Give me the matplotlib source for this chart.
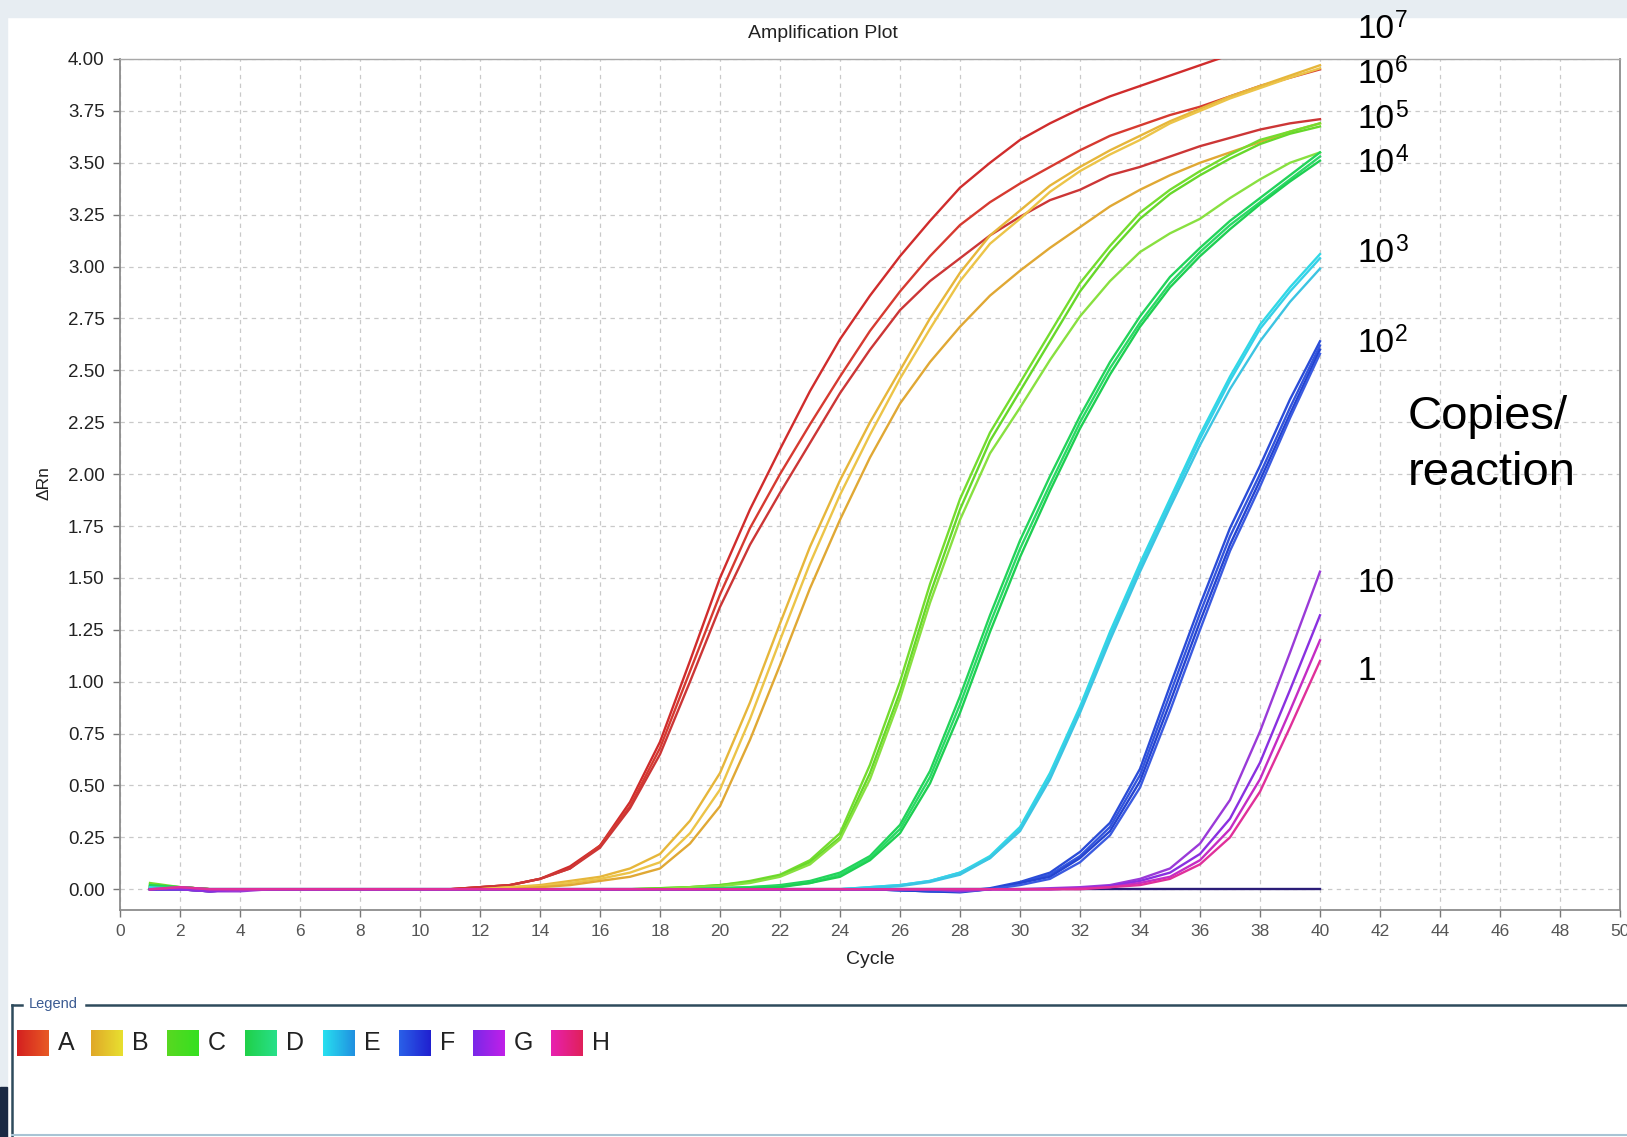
import matplotlib.pyplot as plt
from matplotlib.colors import LinearSegmentedColormap
from matplotlib.lines import Line2D
from matplotlib.patches import Rectangle
import numpy as np

plt.rcParams['font.family'] = ['Liberation Sans', 'DejaVu Sans']

# cycle numbers 1..40
cycles = list(range(1, 41))

# delta Rn per well, one list per well (cycles 1-13 / 14-27 / 28-40)
A1 = [0.01, 0.00, 0.00, 0.00, 0.00, 0.00, 0.00, 0.00, 0.00, 0.00, 0.00, 0.01, 0.02,
      0.05, 0.11, 0.21, 0.42, 0.71, 1.10, 1.50, 1.83, 2.12, 2.40, 2.65, 2.86, 3.05, 3.22,
      3.38, 3.50, 3.61, 3.69, 3.76, 3.82, 3.87, 3.92, 3.97, 4.02, 4.07, 4.11, 4.14]
A2 = [0.00, 0.01, 0.00, 0.00, 0.00, 0.00, 0.00, 0.00, 0.00, 0.00, 0.00, 0.01, 0.02,
      0.05, 0.10, 0.21, 0.40, 0.68, 1.05, 1.42, 1.74, 2.00, 2.24, 2.47, 2.69, 2.88, 3.05,
      3.20, 3.31, 3.40, 3.48, 3.56, 3.63, 3.68, 3.73, 3.77, 3.82, 3.87, 3.91, 3.95]
A3 = [0.00, 0.00, -0.01, 0.00, 0.00, 0.00, 0.00, 0.00, 0.00, 0.00, 0.00, 0.01, 0.02,
      0.05, 0.10, 0.20, 0.39, 0.65, 1.00, 1.36, 1.66, 1.91, 2.15, 2.39, 2.60, 2.79, 2.93,
      3.04, 3.15, 3.24, 3.32, 3.37, 3.44, 3.48, 3.53, 3.58, 3.62, 3.66, 3.69, 3.71]

B1 = [0.01, 0.01, 0.00, 0.00, 0.00, 0.00, 0.00, 0.00, 0.00, 0.00, 0.00, 0.00, 0.01,
      0.02, 0.04, 0.06, 0.10, 0.17, 0.33, 0.56, 0.90, 1.28, 1.65, 1.97, 2.25, 2.50, 2.75,
      2.97, 3.15, 3.27, 3.39, 3.48, 3.56, 3.63, 3.70, 3.76, 3.82, 3.87, 3.92, 3.97]
B2 = [0.01, 0.00, 0.00, 0.00, 0.00, 0.00, 0.00, 0.00, 0.00, 0.00, 0.00, 0.00, 0.01,
      0.015, 0.03, 0.05, 0.08, 0.13, 0.27, 0.48, 0.82, 1.20, 1.57, 1.90, 2.19, 2.46, 2.70,
      2.93, 3.11, 3.23, 3.36, 3.46, 3.54, 3.61, 3.69, 3.75, 3.81, 3.86, 3.91, 3.955]
B3 = [0.00, 0.01, 0.00, 0.00, 0.00, 0.00, 0.00, 0.00, 0.00, 0.00, 0.00, 0.00, 0.00,
      0.01, 0.02, 0.04, 0.06, 0.10, 0.22, 0.40, 0.72, 1.08, 1.45, 1.78, 2.08, 2.34, 2.54,
      2.71, 2.86, 2.98, 3.09, 3.19, 3.29, 3.37, 3.44, 3.50, 3.55, 3.60, 3.65, 3.69]

C1 = [0.03, 0.01, 0.00, 0.00, 0.00, 0.00, 0.00, 0.00, 0.00, 0.00, 0.00, 0.00, 0.00,
      0.00, 0.00, 0.00, 0.00, 0.005, 0.01, 0.02, 0.04, 0.07, 0.14, 0.27, 0.60, 1.00, 1.47,
      1.88, 2.20, 2.44, 2.68, 2.92, 3.10, 3.26, 3.37, 3.46, 3.54, 3.61, 3.65, 3.69]
C2 = [0.02, 0.01, 0.00, 0.00, 0.00, 0.00, 0.00, 0.00, 0.00, 0.00, 0.00, 0.00, 0.00,
      0.00, 0.00, 0.00, 0.00, 0.005, 0.01, 0.02, 0.035, 0.065, 0.13, 0.25, 0.56, 0.95, 1.42,
      1.83, 2.16, 2.40, 2.64, 2.88, 3.07, 3.23, 3.35, 3.44, 3.52, 3.59, 3.64, 3.675]
C3 = [0.02, 0.00, 0.00, 0.00, 0.00, 0.00, 0.00, 0.00, 0.00, 0.00, 0.00, 0.00, 0.00,
      0.00, 0.00, 0.00, 0.00, 0.00, 0.01, 0.015, 0.03, 0.06, 0.12, 0.24, 0.53, 0.92, 1.38,
      1.78, 2.10, 2.32, 2.55, 2.76, 2.93, 3.07, 3.16, 3.23, 3.33, 3.42, 3.50, 3.55]

D1 = [0.02, 0.01, 0.00, 0.00, 0.00, 0.00, 0.00, 0.00, 0.00, 0.00, 0.00, 0.00, 0.00,
      0.00, 0.00, 0.00, 0.00, 0.00, 0.00, 0.005, 0.01, 0.02, 0.04, 0.08, 0.16, 0.31, 0.57,
      0.93, 1.32, 1.68, 1.99, 2.28, 2.54, 2.76, 2.95, 3.09, 3.22, 3.33, 3.44, 3.55]
D2 = [0.01, 0.01, 0.00, 0.00, 0.00, 0.00, 0.00, 0.00, 0.00, 0.00, 0.00, 0.00, 0.00,
      0.00, 0.00, 0.00, 0.00, 0.00, 0.00, 0.005, 0.01, 0.015, 0.03, 0.07, 0.15, 0.29, 0.54,
      0.89, 1.28, 1.64, 1.95, 2.25, 2.51, 2.73, 2.92, 3.07, 3.20, 3.31, 3.42, 3.53]
D3 = [0.01, 0.00, 0.00, 0.00, 0.00, 0.00, 0.00, 0.00, 0.00, 0.00, 0.00, 0.00, 0.00,
      0.00, 0.00, 0.00, 0.00, 0.00, 0.00, 0.00, 0.005, 0.01, 0.03, 0.06, 0.14, 0.27, 0.51,
      0.85, 1.24, 1.60, 1.92, 2.22, 2.48, 2.71, 2.90, 3.05, 3.18, 3.30, 3.41, 3.51]

E1 = [0.01, 0.00, 0.00, 0.00, 0.00, 0.00, 0.00, 0.00, 0.00, 0.00, 0.00, 0.00, 0.00,
      0.00, 0.00, 0.00, 0.00, 0.00, 0.00, 0.00, 0.00, 0.00, 0.00, 0.00, 0.01, 0.02, 0.04,
      0.08, 0.16, 0.30, 0.56, 0.88, 1.24, 1.57, 1.88, 2.19, 2.47, 2.72, 2.90, 3.06]
E2 = [0.00, 0.00, 0.00, 0.00, 0.00, 0.00, 0.00, 0.00, 0.00, 0.00, 0.00, 0.00, 0.00,
      0.00, 0.00, 0.00, 0.00, 0.00, 0.00, 0.00, 0.00, 0.00, 0.00, 0.00, 0.01, 0.02, 0.04,
      0.08, 0.15, 0.29, 0.54, 0.86, 1.22, 1.55, 1.86, 2.17, 2.45, 2.70, 2.88, 3.04]
E3 = [0.00, 0.00, 0.00, 0.00, 0.00, 0.00, 0.00, 0.00, 0.00, 0.00, 0.00, 0.00, 0.00,
      0.00, 0.00, 0.00, 0.00, 0.00, 0.00, 0.00, 0.00, 0.00, 0.00, 0.00, 0.005, 0.015, 0.035,
      0.07, 0.15, 0.28, 0.53, 0.85, 1.20, 1.53, 1.84, 2.14, 2.41, 2.64, 2.83, 2.99]

F1 = [0.00, 0.00, -0.01, 0.00, 0.00, 0.00, 0.00, 0.00, 0.00, 0.00, 0.00, 0.00, 0.00,
      0.00, 0.00, 0.00, 0.00, 0.00, 0.00, 0.00, 0.00, 0.00, 0.00, 0.00, 0.00, -0.005, -0.01,
      -0.01, 0.005, 0.035, 0.08, 0.18, 0.32, 0.58, 0.98, 1.37, 1.74, 2.04, 2.36, 2.64]
F2 = [0.00, 0.00, -0.01, 0.00, 0.00, 0.00, 0.00, 0.00, 0.00, 0.00, 0.00, 0.00, 0.00,
      0.00, 0.00, 0.00, 0.00, 0.00, 0.00, 0.00, 0.00, 0.00, 0.00, 0.00, 0.00, -0.005, -0.01,
      -0.01, 0.00, 0.03, 0.07, 0.16, 0.30, 0.55, 0.94, 1.33, 1.70, 2.00, 2.32, 2.62]
F3 = [0.00, 0.00, 0.00, 0.00, 0.00, 0.00, 0.00, 0.00, 0.00, 0.00, 0.00, 0.00, 0.00,
      0.00, 0.00, 0.00, 0.00, 0.00, 0.00, 0.00, 0.00, 0.00, 0.00, 0.00, 0.00, -0.005, -0.01,
      -0.015, 0.00, 0.03, 0.06, 0.15, 0.28, 0.52, 0.90, 1.29, 1.66, 1.97, 2.29, 2.60]
F4 = [0.00, 0.00, 0.00, 0.00, 0.00, 0.00, 0.00, 0.00, 0.00, 0.00, 0.00, 0.00, 0.00,
      0.00, 0.00, 0.00, 0.00, 0.00, 0.00, 0.00, 0.00, 0.00, 0.00, 0.00, 0.00, 0.00, -0.005,
      -0.01, 0.00, 0.02, 0.05, 0.13, 0.26, 0.49, 0.86, 1.25, 1.63, 1.94, 2.27, 2.58]

G1 = [0.00, 0.00, -0.01, -0.01, 0.00, 0.00, 0.00, 0.00, 0.00, 0.00, 0.00, 0.00, 0.00,
      0.00, 0.00, 0.00, 0.00, 0.00, 0.00, 0.00, 0.00, 0.00, 0.00, 0.00, 0.00, 0.00, 0.00,
      -0.01, 0.00, 0.00, 0.005, 0.01, 0.02, 0.05, 0.10, 0.22, 0.43, 0.76, 1.14, 1.53]
G2 = [0.00, 0.00, -0.01, 0.00, 0.00, 0.00, 0.00, 0.00, 0.00, 0.00, 0.00, 0.00, 0.00,
      0.00, 0.00, 0.00, 0.00, 0.00, 0.00, 0.00, 0.00, 0.00, 0.00, 0.00, 0.00, 0.00, 0.00,
      -0.005, 0.00, 0.00, 0.00, 0.005, 0.015, 0.04, 0.08, 0.17, 0.34, 0.61, 0.96, 1.32]
H1 = [0.00, 0.01, 0.00, 0.00, 0.00, 0.00, 0.00, 0.00, 0.00, 0.00, 0.00, 0.00, 0.00,
      0.00, 0.00, 0.00, 0.00, 0.00, 0.00, 0.00, 0.00, 0.00, 0.00, 0.00, 0.00, 0.00, 0.00,
      0.00, 0.00, 0.00, 0.00, 0.005, 0.01, 0.03, 0.06, 0.14, 0.29, 0.53, 0.86, 1.20]
H2 = [0.00, 0.01, 0.00, 0.00, 0.00, 0.00, 0.00, 0.00, 0.00, 0.00, 0.00, 0.00, 0.00,
      0.00, 0.00, 0.00, 0.00, 0.00, 0.00, 0.00, 0.00, 0.00, 0.00, 0.00, 0.00, 0.00, 0.00,
      0.00, 0.00, 0.00, 0.00, 0.00, 0.01, 0.02, 0.05, 0.12, 0.25, 0.47, 0.78, 1.10]

# no-template control
NTC = [0.00, 0.00, 0.00, 0.00, 0.00, 0.00, 0.00, 0.00, 0.00, 0.00, 0.00, 0.00, 0.00,
       0.00, 0.00, 0.00, 0.00, 0.00, 0.00, 0.00, 0.00, 0.00, 0.00, 0.00, 0.00, 0.00, 0.00,
       0.00, 0.00, 0.00, 0.00, 0.00, 0.00, 0.00, 0.00, 0.00, 0.00, 0.00, 0.00, 0.00]

wells = [A1, A2, A3, B1, B2, B3, C1, C2, C3, D1, D2, D3,
         E1, E2, E3, F1, F2, F3, F4, G1, G2, H1, H2]
well_colors = ['#d02c2c', '#d63a30', '#cc3636',
               '#e6b63a', '#ecc448', '#e0a834',
               '#74dc2e', '#66d82a', '#88e040',
               '#22d45a', '#2ad866', '#1ecf52',
               '#30d8e6', '#36d0e8', '#3cc4e2',
               '#2a4cd8', '#3254dc', '#2444d0', '#3a5ae0',
               '#9a3ad8', '#8a30e0', '#c42cc4', '#e0309a']

# sample legend
legend_names = ['A', 'B', 'C', 'D', 'E', 'F', 'G', 'H']
legend_grad = [('#d42020', '#e85a24'), ('#e0a828', '#e8e030'),
               ('#58d820', '#36e020'), ('#20d048', '#28e08a'),
               ('#28e0f0', '#2090e0'), ('#2a60e8', '#2020d0'),
               ('#7a28e8', '#c020e8'), ('#e820b0', '#e0205a')]
legend_x = [17, 91, 167, 245, 323, 399, 473, 551]

# copies/reaction labels at the right: mantissa, exponent, baseline (px)
dilution_base = ['10', '10', '10', '10', '10', '10', '10', '1']
dilution_exp = ['7', '6', '5', '4', '3', '2', '', '']
dilution_baseline = [38, 83, 128, 172, 262, 352, 592, 680]

W, H = 1627, 1137


def fx(px):
    return px / W


def fy(py):
    return 1 - py / H


fig = plt.figure(figsize=(W / 100, H / 100), dpi=100)
fig.patch.set_facecolor('white')

# window chrome around the plot
fig.patches.append(Rectangle((0, fy(17)), 1, 17 / H, transform=fig.transFigure,
                             color='#e7edf2', zorder=0))
fig.patches.append(Rectangle((0, 0), fx(7), 1, transform=fig.transFigure,
                             color='#e7edf2', zorder=0))
fig.patches.append(Rectangle((0, 0), fx(7), 50 / H, transform=fig.transFigure,
                             color='#1b2a44', zorder=1))

ax = fig.add_axes([fx(120), fy(910), fx(1620) - fx(120), (910 - 59) / H])

ax.plot(cycles, NTC, color='#2b1d78', lw=1.7, zorder=2)
for vals, col in zip(wells, well_colors):
    ax.plot(cycles, vals, color=col, lw=1.7, zorder=3)

ax.set_xlim(0, 50)
ax.set_ylim(-0.1, 4.0)
ax.set_xticks(np.arange(0, 51, 2))
ax.set_yticks(np.arange(0, 4.01, 0.25))
ax.set_yticklabels(['%.2f' % v for v in np.arange(0, 4.01, 0.25)])
ax.grid(True, color='#c9c9c9', lw=0.9, linestyle=(0, (3.5, 3.5)))
ax.set_axisbelow(True)
ax.tick_params(direction='out', length=5, width=1, color='#777777')
ax.tick_params(axis='y', labelsize=13.5, labelcolor='#222222', pad=6)
ax.tick_params(axis='x', labelsize=12.5, labelcolor='#555555', pad=5)
for s in ['left', 'bottom', 'right']:
    ax.spines[s].set_color('#8c8c8c')
    ax.spines[s].set_linewidth(1.3)
ax.spines['top'].set_color('#a8a8a8')
ax.spines['top'].set_linewidth(1.0)

fig.text(fx(823), fy(34), 'Amplification Plot', ha='center', va='center',
         fontsize=14, color='#222222')
fig.text(fx(44), fy(483), '\u0394Rn', rotation=90, ha='center', va='center',
         fontsize=12.5, color='#222222')
fig.text(fx(870), fy(960), 'Cycle', ha='center', va='center',
         fontsize=14, color='#222222')

for base, ex, yb in zip(dilution_base, dilution_exp, dilution_baseline):
    fig.text(fx(1358), fy(yb), base, ha='left', va='baseline', fontsize=24,
             color='black')
    if ex:
        fig.text(fx(1395), fy(yb - 11), ex, ha='left', va='baseline',
                 fontsize=16.5, color='black')
fig.text(fx(1408), fy(429), 'Copies/', ha='left', va='baseline', fontsize=34,
         color='black')
fig.text(fx(1408), fy(485), 'reaction', ha='left', va='baseline', fontsize=34,
         color='black')

# legend frame
frame_col = '#2e4b5c'
fig.lines.append(Line2D([fx(12), fx(22)], [fy(1005), fy(1005)], color=frame_col,
                        lw=1.8, transform=fig.transFigure))
fig.lines.append(Line2D([fx(86), 1], [fy(1005), fy(1005)], color=frame_col,
                        lw=1.8, transform=fig.transFigure))
fig.lines.append(Line2D([fx(12), fx(12)], [fy(1005), 0], color=frame_col,
                        lw=1.8, transform=fig.transFigure))
fig.lines.append(Line2D([fx(12), 1], [fy(1135), fy(1135)], color='#a8c4d4',
                        lw=1.5, transform=fig.transFigure))
fig.text(fx(29), fy(1004), 'Legend', ha='left', va='center', fontsize=10.5,
         color='#3b5b92')

grad = np.linspace(0, 1, 64).reshape(1, -1)
for name, (c0, c1), x0 in zip(legend_names, legend_grad, legend_x):
    sax = fig.add_axes([fx(x0), fy(1043 + 13.5), 32 / W, 27 / H])
    cmap = LinearSegmentedColormap.from_list('sw_' + name, [c0, c1])
    sax.imshow(grad, cmap=cmap, aspect='auto')
    sax.set_axis_off()
    fig.text(fx(x0 + 41), fy(1043), name, ha='left', va='center', fontsize=18,
             color='#222222')

fig.savefig('out.png', dpi=100)
